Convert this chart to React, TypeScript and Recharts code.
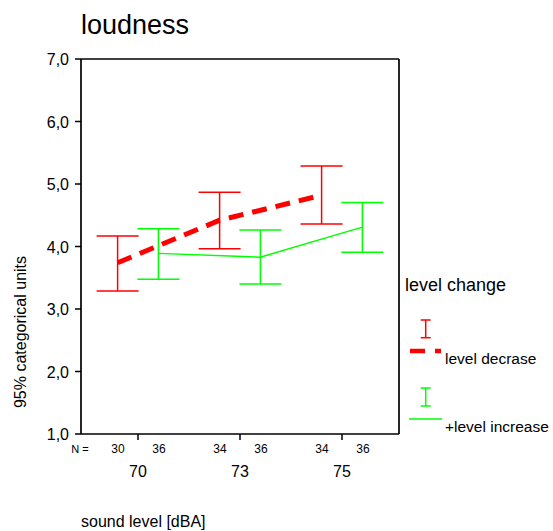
import React from 'react';
import { LineChart, Line, XAxis, YAxis, ErrorBar, Customized, ReferenceLine } from 'recharts';

const categories = ['70', '73', '75'];
const decreaseMean = [3.74, 4.42, 4.82];
const decreaseLow = [3.29, 3.965, 4.36];
const decreaseHigh = [4.17, 4.87, 5.29];
const increaseMean = [3.89, 3.83, 4.31];
const increaseLow = [3.475, 3.4, 3.91];
const increaseHigh = [4.285, 4.265, 4.705];
const nDecrease = [30, 34, 34];
const nIncrease = [36, 36, 36];
const yTicks = [1, 2, 3, 4, 5, 6, 7];
const xTicks = [0, 1, 2];

const RED = '#ff0000';
const GREEN = '#00ff00';
const FONT = '"Liberation Sans", Arial, Helvetica, sans-serif';
const SHIFT = 0.2;
const X_DOMAIN = [-0.559, 2.559];
const Y_DOMAIN = [1, 7];

const build = (mean: number[], low: number[], high: number[], shift: number) =>
  mean.map((m, i) => ({ x: i + shift, y: m, err: [m - low[i], high[i] - m] }));

const decreaseData = build(decreaseMean, decreaseLow, decreaseHigh, -SHIFT);
const increaseData = build(increaseMean, increaseLow, increaseHigh, SHIFT);

const XTick = (props: any) => {
  const { x, y, payload } = props;
  const i = Math.round(payload.value);
  return (
    <g fontFamily={FONT} fill="#000">
      {i === 0 && (
        <text x={x - 58} y={y + 11} textAnchor="middle" fontSize={11}>
          N =
        </text>
      )}
      <text x={x - 20} y={y + 11} textAnchor="middle" fontSize={12}>
        {nDecrease[i]}
      </text>
      <text x={x + 21} y={y + 11} textAnchor="middle" fontSize={12}>
        {nIncrease[i]}
      </text>
      <text x={x} y={y + 35} textAnchor="middle" fontSize={16}>
        {categories[i]}
      </text>
    </g>
  );
};

const YTick = (props: any) => {
  const { x, y, payload } = props;
  return (
    <text x={x} y={y} dy={6} textAnchor="end" fontSize={16} fontFamily={FONT} fill="#000">
      {Number(payload.value).toFixed(1).replace('.', ',')}
    </text>
  );
};

const Decorations = () => (
  <g fontFamily={FONT} fill="#000">
    <text x={81} y={34} fontSize={27}>loudness</text>
    <text
      x={20}
      y={332}
      fontSize={16}
      textAnchor="middle"
      dominantBaseline="central"
      transform="rotate(-90, 20, 332)"
    >
      95% categorical units
    </text>
    <text x={81} y={527} fontSize={16}>sound level [dBA]</text>
    <text x={405} y={291} fontSize={18}>level change</text>
    <g stroke={RED} strokeWidth={1.5}>
      <line x1={425.7} y1={320} x2={425.7} y2={337.7} />
      <line x1={420.7} y1={320} x2={430.7} y2={320} />
      <line x1={420.7} y1={337.7} x2={430.7} y2={337.7} />
    </g>
    <line x1={410} y1={351} x2={441} y2={351} stroke={RED} strokeWidth={4.5} strokeDasharray="15 10" />
    <text x={445} y={364} fontSize={15.5}>level decrase</text>
    <g stroke={GREEN} strokeWidth={1.5}>
      <line x1={425.7} y1={388} x2={425.7} y2={406} />
      <line x1={420.7} y1={388} x2={430.7} y2={388} />
      <line x1={420.7} y1={406} x2={430.7} y2={406} />
    </g>
    <line x1={409} y1={419} x2={442} y2={419} stroke={GREEN} strokeWidth={1.5} />
    <text x={445} y={432} fontSize={15.5}>+level increase</text>
  </g>
);

export default function App() {
  return (
    <div style={{ position: 'absolute', left: 0, top: 0, background: '#fff' }}>
      <LineChart width={553} height={531} margin={{ top: 59, left: 21, right: 154, bottom: 37 }}>
        <XAxis
          type="number"
          dataKey="x"
          domain={X_DOMAIN}
          ticks={xTicks}
          interval={0}
          allowDataOverflow
          height={60}
          tickSize={6}
          tickMargin={2}
          tick={<XTick />}
          axisLine={{ stroke: '#000', strokeWidth: 1.7 }}
          tickLine={{ stroke: '#000', strokeWidth: 1.5 }}
        />
        <YAxis
          type="number"
          domain={Y_DOMAIN}
          ticks={yTicks}
          interval={0}
          allowDataOverflow
          width={60}
          tickSize={6}
          tickMargin={6}
          tick={<YTick />}
          axisLine={{ stroke: '#000', strokeWidth: 1.7 }}
          tickLine={{ stroke: '#000', strokeWidth: 1.5 }}
        />
        <ReferenceLine y={Y_DOMAIN[1]} stroke="#000" strokeWidth={1.7} />
        <ReferenceLine x={X_DOMAIN[1]} stroke="#000" strokeWidth={1.7} />
        <Line
          data={decreaseData}
          dataKey="y"
          type="linear"
          stroke={RED}
          strokeWidth={5}
          strokeDasharray="15 9"
          dot={false}
          activeDot={false}
          isAnimationActive={false}
        >
          <ErrorBar dataKey="err" direction="y" width={21} stroke={RED} strokeWidth={1.5} isAnimationActive={false} />
        </Line>
        <Line
          data={increaseData}
          dataKey="y"
          type="linear"
          stroke={GREEN}
          strokeWidth={1.5}
          dot={false}
          activeDot={false}
          isAnimationActive={false}
        >
          <ErrorBar dataKey="err" direction="y" width={21} stroke={GREEN} strokeWidth={1.5} isAnimationActive={false} />
        </Line>
        <Customized component={Decorations} />
      </LineChart>
    </div>
  );
}
